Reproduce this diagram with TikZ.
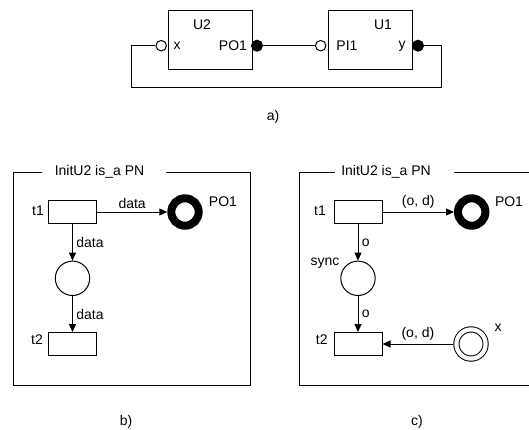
\documentclass[tikz,border=0pt]{standalone}
\usepackage{fontspec}
\setmainfont{Liberation Sans}
\usetikzlibrary{arrows.meta}

\begin{document}
\begin{tikzpicture}[x=1pt, y=-1pt, line width=1pt,
    font=\fontsize{14}{17}\selectfont,
    unit/.style={draw, minimum width=84pt, minimum height=59pt, inner sep=0pt},
    inport/.style={circle, draw, fill=white, minimum size=10.5pt, inner sep=0pt},
    outport/.style={circle, draw, fill=black, minimum size=11pt, inner sep=0pt},
    trans/.style={draw, minimum width=48pt, minimum height=23pt, inner sep=0pt},
    place/.style={circle, draw, minimum size=34.4pt, inner sep=0pt},
    outplace/.style={circle, draw, line width=8pt, minimum size=27.4pt, inner sep=0pt},
    inplace/.style={circle, draw, double, double distance=4.2pt,
                    minimum size=29.2pt, inner sep=0pt, outer sep=3.1pt},
    arrow/.style={-{Triangle[length=8pt, width=7pt]}},
    lbl/.style={inner sep=0pt}
]
\useasboundingbox (0,0) rectangle (529,429);

% Components U2 and U1
\node[unit] (u2) at (210,39.7) {};
\node[unit] (u1) at (370.8,39.7) {};
\node[lbl] (u2name) at (202,25) {U2};
\node[lbl] (u1name) at (383,25) {U1};
\node[inport]  (xport)   at (161.2,45.7) {};
\node[outport] (po1port) at (257,45.7) {};
\node[inport]  (pi1port) at (320.7,45.7) {};
\node[outport] (yport)   at (418,45.7) {};
\node[lbl] (xname)   at (177,46) {x};
\node[lbl] (po1name) at (233,46) {PO1};
\node[lbl] (pi1name) at (347,46) {PI1};
\node[lbl] (yname)   at (402,46) {y};
\draw (po1port) -- (pi1port);
\draw (xport.west) -- ++(-24,0) |- (441,87.3) |- (yport.east);
\node[lbl] (capa) at (273,117) {a)};

% Net b)
\node[lbl] (titleb) at (99.5,172) {InitU2 is\_a PN};
\draw ([xshift=-12pt]titleb.west) -| (13.3,385) -| (250.7,172)
  -- ([xshift=21.6pt]titleb.east);
\node[trans] (t1b) at (72.5,212) {};
\node[lbl] (t1bname) at (38,211) {t1};
\node[outplace] (po1b) at (185,212) {};
\node[lbl] (po1bname) at (223,202) {PO1};
\node[place] (pb) at (72.5,278.3) {};
\node[trans] (t2b) at (72.5,344) {};
\node[lbl] (t2bname) at (37,339.5) {t2};
\draw[arrow] (t1b) -- node[above] {data} (po1b);
\draw[arrow] (t1b) -- node[right] {data} (pb);
\draw[arrow] (pb) -- node[right] {data} (t2b);
\node[lbl] (capb) at (126,421.7) {b)};

% Net c)
\node[lbl] (titlec) at (386,172) {InitU2 is\_a PN};
\draw ([xshift=-6pt]titlec.west) -| (299,385) -| (530,172)
  -- ([xshift=22.6pt]titlec.east);
\node[trans] (t1c) at (358,212) {};
\node[lbl] (t1cname) at (320,211) {t1};
\node[outplace] (po1c) at (471.7,212) {};
\node[lbl] (po1cname) at (509,202) {PO1};
\node[place] (sync) at (358,278.3) {};
\node[lbl] (syncname) at (325,263.3) {sync};
\node[trans] (t2c) at (358,344) {};
\node[lbl] (t2cname) at (321.7,339.5) {t2};
\node[inplace] (xc) at (471,344) {};
\node[lbl] (xcname) at (498,328) {x};
\draw[arrow] (t1c) -- node[above] {(o, d)} (po1c);
\draw[arrow] (t1c) -- node[right] {o} (sync);
\draw[arrow] (sync) -- node[right] {o} (t2c);
\draw[arrow] (xc) -- node[above] {(o, d)} (t2c);
\node[lbl] (capc) at (417,421.7) {c)};
\end{tikzpicture}
\end{document}
